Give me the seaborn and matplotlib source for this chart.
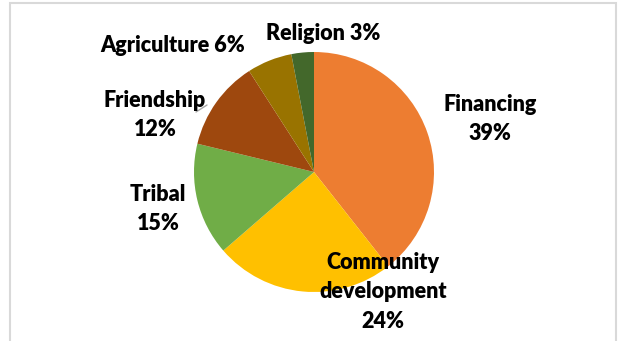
import matplotlib
matplotlib.use("Agg")
import matplotlib.pyplot as plt
import seaborn as sns

categories = ["Financing", "Community\ndevelopment", "Tribal", "Friendship", "Agriculture", "Religion"]
shares = [39, 24, 15, 12, 6, 3]
colors = ["#ED7D31", "#FFC000", "#70AD47", "#9E480E", "#997300", "#43682B"]

sns.set_theme(style="white")
plt.rcParams["font.family"] = ["Lato", "DejaVu Sans"]

W, H = 622, 341
fig = plt.figure(figsize=(W / 100, H / 100), dpi=100)
ax = fig.add_axes([0, 0, 1, 1])

# chart frame
frame = plt.Rectangle((10, -5), 606, H + 4 - 1.5, fill=False, edgecolor="#D9D9D9", lw=1.5)
ax.add_patch(frame)

cx, cy, r = 314, H - 172, 120
ax.pie(shares, colors=colors, startangle=90, counterclock=False,
       center=(cx, cy), radius=r, frame=True,
       wedgeprops=dict(linewidth=0))
ax.set_xlim(0, W)
ax.set_ylim(0, H)
ax.set_aspect("equal")
ax.axis("off")

# label anchor points (pixel coords, top-left origin)
label_pos = {
    "Financing": (490, 119, "\n"),
    "Community\ndevelopment": (383, 292, "\n"),
    "Tribal": (158, 209, "\n"),
    "Friendship": (155, 115, "\n"),
    "Agriculture": (173, 46, " "),
    "Religion": (323, 33, " "),
}
for cat, val in zip(categories, shares):
    x, y, sep = label_pos[cat]
    ax.text(x, H - y, f"{cat}{sep}{val}%", ha="center", va="center",
            fontsize=15.5, fontweight="heavy", color="#000000", linespacing=1.5)

# leader line for the Friendship label
ax.plot([196, 207], [H - 112, H - 105], color="#A6A6A6", lw=1)

fig.savefig("out.png", dpi=100)
